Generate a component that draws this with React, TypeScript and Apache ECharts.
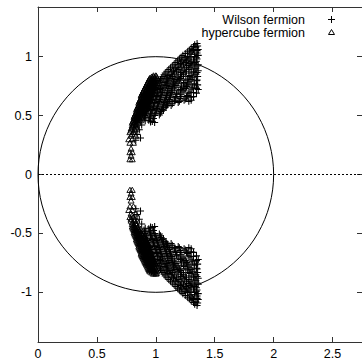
import React, { useEffect, useRef } from 'react';
import * as echarts from 'echarts';

const xTicks = [0, 0.5, 1, 1.5, 2, 2.5];
const yTicks = [-1, -0.5, 0, 0.5, 1];
const seriesNames = ['Wilson fermion', 'hypercube fermion'];

// Eigenvalues with positive imaginary part (the spectrum is symmetric under complex conjugation)
const wilsonUpper: number[][] = [
  [1.33, 1.10], [1.35, 1.11],
  [1.30, 1.07], [1.34, 1.08], [1.36, 1.06],
  [1.27, 1.04], [1.31, 1.05], [1.35, 1.03],
  [1.23, 1.01], [1.27, 1.00], [1.30, 1.02], [1.33, 1.00], [1.36, 1.01],
  [1.20, 0.98], [1.24, 0.97], [1.28, 0.98], [1.32, 0.97], [1.35, 0.98],
  [1.17, 0.95], [1.21, 0.94], [1.25, 0.95], [1.29, 0.94], [1.33, 0.95], [1.36, 0.93],
  [1.14, 0.92], [1.18, 0.91], [1.22, 0.92], [1.26, 0.91], [1.30, 0.92], [1.34, 0.90],
  [1.11, 0.89], [1.15, 0.88], [1.19, 0.89], [1.23, 0.88], [1.28, 0.89], [1.32, 0.87], [1.36, 0.88],
  [1.08, 0.86], [1.12, 0.85], [1.16, 0.86], [1.21, 0.85], [1.25, 0.86], [1.29, 0.84], [1.34, 0.85],
  [1.06, 0.83], [1.10, 0.82], [1.14, 0.83], [1.18, 0.82], [1.22, 0.83], [1.27, 0.81], [1.31, 0.82], [1.35, 0.80],
  [1.04, 0.80], [1.08, 0.79], [1.12, 0.80], [1.16, 0.79], [1.20, 0.80], [1.24, 0.78], [1.29, 0.79], [1.33, 0.77],
  [1.02, 0.77], [1.06, 0.76], [1.10, 0.77], [1.14, 0.76], [1.18, 0.77], [1.22, 0.75], [1.27, 0.76], [1.31, 0.74], [1.36, 0.72],
  [1.00, 0.74], [1.04, 0.73], [1.08, 0.74], [1.12, 0.73], [1.16, 0.74], [1.21, 0.72], [1.25, 0.73], [1.29, 0.70],
  [0.98, 0.71], [1.02, 0.70], [1.06, 0.71], [1.10, 0.70], [1.14, 0.71], [1.18, 0.69], [1.23, 0.70], [1.27, 0.67], [1.32, 0.66],
  [0.97, 0.68], [1.01, 0.67], [1.05, 0.68], [1.09, 0.67], [1.13, 0.68], [1.17, 0.66], [1.21, 0.66], [1.25, 0.64], [1.30, 0.63],
  [0.96, 0.65], [1.00, 0.64], [1.04, 0.65], [1.08, 0.64], [1.12, 0.65], [1.16, 0.63], [1.20, 0.62],
  [0.95, 0.62], [0.99, 0.61], [1.03, 0.62], [1.07, 0.61], [1.11, 0.62], [1.14, 0.60],
  [0.94, 0.59], [0.98, 0.58], [1.02, 0.59], [1.06, 0.58], [1.10, 0.59],
  [0.93, 0.56], [0.97, 0.55], [1.01, 0.56], [1.05, 0.55], [1.08, 0.57],
  [0.92, 0.53], [0.96, 0.52], [1.00, 0.53], [1.04, 0.52],
  [0.91, 0.50], [0.95, 0.49], [0.99, 0.50],
  [0.90, 0.47], [0.94, 0.46], [0.97, 0.45],
  [0.99, 0.44], [0.88, 0.42], [0.86, 0.38], [0.84, 0.34], [0.87, 0.31], [0.83, 0.29],
  [1.32, 1.085], [1.355, 1.09],
  [1.285, 1.055], [1.32, 1.06], [1.35, 1.05],
  [1.25, 1.025], [1.29, 1.03], [1.33, 1.02],
  [1.215, 0.995], [1.25, 0.99], [1.29, 0.99], [1.345, 0.99],
  [1.185, 0.965], [1.22, 0.96], [1.26, 0.965], [1.30, 0.955], [1.345, 0.96],
  [1.155, 0.935], [1.19, 0.93], [1.235, 0.935], [1.275, 0.925], [1.315, 0.93], [1.35, 0.92],
  [1.125, 0.905], [1.165, 0.90], [1.205, 0.905], [1.245, 0.895], [1.29, 0.905], [1.33, 0.895],
  [1.095, 0.875], [1.135, 0.87], [1.175, 0.875], [1.215, 0.865], [1.26, 0.875], [1.305, 0.86], [1.35, 0.865],
  [1.07, 0.845], [1.105, 0.84], [1.145, 0.845], [1.19, 0.835], [1.235, 0.845], [1.28, 0.83], [1.325, 0.835], [1.355, 0.83],
  [1.05, 0.815], [1.09, 0.81], [1.13, 0.815], [1.17, 0.805], [1.21, 0.815], [1.255, 0.80], [1.30, 0.805], [1.345, 0.795],
  [1.03, 0.785], [1.07, 0.78], [1.11, 0.785], [1.15, 0.775], [1.19, 0.785], [1.235, 0.77], [1.28, 0.775], [1.325, 0.76], [1.355, 0.76],
  [1.01, 0.755], [1.05, 0.75], [1.09, 0.755], [1.13, 0.745], [1.17, 0.755], [1.215, 0.74], [1.26, 0.745], [1.30, 0.725], [1.345, 0.73],
  [0.99, 0.725], [1.03, 0.72], [1.07, 0.725], [1.11, 0.715], [1.155, 0.725], [1.195, 0.71], [1.24, 0.715], [1.28, 0.69], [1.32, 0.695],
  [0.975, 0.695], [1.015, 0.69], [1.055, 0.695], [1.095, 0.685], [1.135, 0.695], [1.175, 0.68], [1.215, 0.68], [1.26, 0.66], [1.30, 0.655], [1.345, 0.69],
  [0.965, 0.665], [1.005, 0.66], [1.045, 0.665], [1.085, 0.655], [1.125, 0.665], [1.165, 0.65], [1.205, 0.645], [1.24, 0.63], [1.28, 0.62],
  [0.955, 0.635], [0.995, 0.63], [1.035, 0.635], [1.075, 0.625], [1.115, 0.635], [1.155, 0.62], [1.19, 0.61],
  [0.945, 0.605], [0.985, 0.60], [1.025, 0.605], [1.065, 0.595], [1.10, 0.605], [1.13, 0.585],
  [0.935, 0.575], [0.975, 0.57], [1.015, 0.575], [1.055, 0.565], [1.09, 0.58],
  [0.925, 0.545], [0.965, 0.54], [1.005, 0.545], [1.045, 0.535], [1.065, 0.545],
  [0.915, 0.515], [0.955, 0.51], [0.995, 0.515], [1.03, 0.505],
  [0.905, 0.485], [0.945, 0.48], [0.98, 0.475],
  [0.91, 0.455], [0.955, 0.445],
];

const hypercubeUpper: number[][] = [
  [0.98, 0.84], [1.00, 0.84],
  [0.95, 0.82], [0.97, 0.82], [0.99, 0.82], [1.01, 0.82],
  [0.94, 0.80], [0.96, 0.80], [0.98, 0.80], [1.00, 0.80],
  [0.93, 0.78], [0.95, 0.78], [0.97, 0.78], [0.99, 0.78],
  [0.92, 0.76], [0.94, 0.76], [0.96, 0.76], [0.98, 0.76], [1.00, 0.76],
  [0.91, 0.74], [0.93, 0.74], [0.95, 0.74], [0.97, 0.74], [0.99, 0.74],
  [0.90, 0.72], [0.92, 0.72], [0.94, 0.72], [0.96, 0.72], [0.98, 0.72],
  [0.89, 0.70], [0.91, 0.70], [0.93, 0.70], [0.95, 0.70], [0.97, 0.70],
  [0.88, 0.68], [0.90, 0.68], [0.92, 0.68], [0.94, 0.68], [0.96, 0.68],
  [0.88, 0.66], [0.90, 0.66], [0.92, 0.66], [0.94, 0.66], [0.96, 0.66],
  [0.87, 0.64], [0.89, 0.64], [0.91, 0.64], [0.93, 0.64], [0.95, 0.64],
  [0.86, 0.62], [0.88, 0.62], [0.90, 0.62], [0.92, 0.62], [0.94, 0.62],
  [0.86, 0.60], [0.88, 0.60], [0.90, 0.60], [0.92, 0.60], [0.94, 0.60],
  [0.85, 0.58], [0.87, 0.58], [0.89, 0.58], [0.91, 0.58], [0.93, 0.58],
  [0.84, 0.56], [0.86, 0.56], [0.88, 0.56], [0.90, 0.56], [0.92, 0.56],
  [0.84, 0.54], [0.86, 0.54], [0.88, 0.54], [0.90, 0.54],
  [0.83, 0.52], [0.85, 0.52], [0.87, 0.52], [0.89, 0.52],
  [0.82, 0.50], [0.84, 0.50], [0.86, 0.50], [0.88, 0.50],
  [0.82, 0.48], [0.84, 0.48], [0.86, 0.48],
  [0.81, 0.46], [0.83, 0.46], [0.85, 0.46], [0.87, 0.46],
  [0.80, 0.44], [0.82, 0.44], [0.85, 0.44],
  [0.80, 0.42], [0.83, 0.42],
  [0.79, 0.39], [0.82, 0.39], [0.84, 0.39],
  [0.78, 0.36], [0.81, 0.36],
  [0.79, 0.33], [0.83, 0.33],
  [0.77, 0.30], [0.80, 0.30],
  [0.78, 0.27], [0.81, 0.27],
  [0.79, 0.22],
  [0.78, 0.19], [0.80, 0.19],
  [0.79, 0.16],
  [0.78, 0.13], [0.80, 0.13],
  [0.965, 0.83], [0.985, 0.83], [1.005, 0.835],
  [0.945, 0.81], [0.965, 0.81], [0.985, 0.81], [1.005, 0.81],
  [0.935, 0.79], [0.955, 0.79], [0.975, 0.79], [0.995, 0.79],
  [0.925, 0.77], [0.945, 0.77], [0.965, 0.77], [0.985, 0.77],
  [0.915, 0.75], [0.935, 0.75], [0.955, 0.75], [0.975, 0.75], [0.995, 0.75],
  [0.905, 0.73], [0.925, 0.73], [0.945, 0.73], [0.965, 0.73], [0.985, 0.73],
  [0.895, 0.71], [0.915, 0.71], [0.935, 0.71], [0.955, 0.71], [0.975, 0.71],
  [0.885, 0.69], [0.905, 0.69], [0.925, 0.69], [0.945, 0.69], [0.965, 0.69],
  [0.875, 0.67], [0.895, 0.67], [0.915, 0.67], [0.935, 0.67], [0.955, 0.67],
  [0.875, 0.65], [0.895, 0.65], [0.915, 0.65], [0.935, 0.65], [0.955, 0.65],
  [0.865, 0.63], [0.885, 0.63], [0.905, 0.63], [0.925, 0.63], [0.945, 0.63],
  [0.855, 0.61], [0.875, 0.61], [0.895, 0.61], [0.915, 0.61], [0.935, 0.61],
  [0.855, 0.59], [0.875, 0.59], [0.895, 0.59], [0.915, 0.59], [0.935, 0.59],
  [0.845, 0.57], [0.865, 0.57], [0.885, 0.57], [0.905, 0.57], [0.925, 0.57],
  [0.835, 0.55], [0.855, 0.55], [0.875, 0.55], [0.895, 0.55], [0.915, 0.55],
  [0.835, 0.53], [0.855, 0.53], [0.875, 0.53], [0.895, 0.53],
  [0.825, 0.51], [0.845, 0.51], [0.865, 0.51], [0.885, 0.51],
  [0.815, 0.49], [0.835, 0.49], [0.855, 0.49], [0.875, 0.49],
  [0.815, 0.47], [0.835, 0.47], [0.855, 0.47],
  [0.805, 0.45], [0.825, 0.45], [0.845, 0.45],
  [0.81, 0.43], [0.835, 0.43],
  [0.80, 0.405], [0.83, 0.41],
  [0.79, 0.375], [0.82, 0.38],
  [0.80, 0.345],
];

// Reference circle: centre (re, im) and radius
const circleData: number[][] = [[1, 0, 1]];
const zeroLineY = 0;

const withConjugates = (pts: number[][]) => pts.concat(pts.map(([x, y]) => [x, -y]));

const FONT = "'Liberation Sans', Arial, Helvetica, sans-serif";
const PLUS = 'path://M-0.15,-1H0.15V-0.15H1V0.15H0.15V1H-0.15V0.15H-1V-0.15H-0.15Z';
const TRI = 'path://M0,-1L1,0.75L-1,0.75Z';
const axisLine = { show: true, onZero: false, lineStyle: { color: '#333', width: 1 } };

export default function App() {
  const ref = useRef<HTMLDivElement>(null);
  useEffect(() => {
    if (!ref.current) return;
    const chart = echarts.init(ref.current, null, { renderer: 'svg' });
    const tickStyle = { color: '#333', width: 1 };
    const legendText = (text: string, y: number) => ({
      type: 'text',
      x: 305,
      y,
      style: { text, fill: '#000', font: `12.5px ${FONT}`, textAlign: 'right', textVerticalAlign: 'middle' },
    });
    chart.setOption({
      animation: false,
      backgroundColor: '#fff',
      textStyle: { fontFamily: FONT },
      grid: { left: 38, top: 7, width: 325, height: 335 },
      graphic: [
        legendText(seriesNames[0], 19.5),
        legendText(seriesNames[1], 32.5),
        { type: 'line', shape: { x1: 328, y1: 19.5, x2: 335, y2: 19.5 }, style: { stroke: '#000', lineWidth: 1 } },
        { type: 'line', shape: { x1: 331.5, y1: 16, x2: 331.5, y2: 23 }, style: { stroke: '#000', lineWidth: 1 } },
        { type: 'polygon', shape: { points: [[331.5, 29.5], [334.5, 34.5], [328.5, 34.5]] }, style: { fill: 'none', stroke: '#000', lineWidth: 1 } },
      ],
      xAxis: [
        {
          type: 'value', min: 0, max: 2.75, position: 'bottom',
          axisLine,
          axisTick: { show: true, inside: true, length: 5, customValues: xTicks, lineStyle: tickStyle },
          axisLabel: { customValues: xTicks, color: '#000', fontSize: 12.5, margin: 5, fontFamily: FONT },
          splitLine: { show: false },
        },
        {
          type: 'value', min: 0, max: 2.75, position: 'top',
          axisLine,
          axisTick: { show: true, inside: true, length: 5, customValues: xTicks, lineStyle: tickStyle },
          axisLabel: { show: false },
          splitLine: { show: false },
        },
      ],
      yAxis: [
        {
          type: 'value', min: -1.42, max: 1.42, position: 'left',
          axisLine,
          axisTick: { show: true, inside: true, length: 5, customValues: yTicks, lineStyle: tickStyle },
          axisLabel: { customValues: yTicks, color: '#000', fontSize: 12.5, margin: 6, fontFamily: FONT },
          splitLine: { show: false },
        },
        {
          type: 'value', min: -1.42, max: 1.42, position: 'right',
          axisLine,
          axisTick: { show: true, inside: true, length: 5, customValues: yTicks, lineStyle: tickStyle },
          axisLabel: { show: false },
          splitLine: { show: false },
        },
      ],
      series: [
        {
          type: 'custom',
          name: 'circle',
          data: circleData,
          encode: { x: 0, y: 1 },
          z: 1,
          silent: true,
          renderItem: (params: any, api: any) => {
            const c = api.coord([api.value(0), api.value(1)]);
            const r = api.size([api.value(2), 0])[0];
            return {
              type: 'circle',
              shape: { cx: c[0], cy: c[1], r },
              style: { fill: 'none', stroke: '#000', lineWidth: 1 },
            };
          },
          markLine: {
            silent: true,
            symbol: 'none',
            label: { show: false },
            lineStyle: { color: '#000', width: 1, type: [2, 2] },
            data: [{ yAxis: zeroLineY }],
          },
        },
        {
          type: 'scatter',
          name: seriesNames[0],
          data: withConjugates(wilsonUpper),
          symbol: PLUS,
          symbolSize: 7,
          itemStyle: { color: '#000', opacity: 1 },
          z: 2,
        },
        {
          type: 'scatter',
          name: seriesNames[1],
          data: withConjugates(hypercubeUpper),
          symbol: TRI,
          symbolSize: 6,
          symbolKeepAspect: true,
          itemStyle: { color: 'rgba(0,0,0,0)', borderColor: '#000', borderWidth: 0.9, opacity: 1 },
          z: 3,
        },
      ],
    });
    return () => chart.dispose();
  }, []);
  return <div ref={ref} style={{ width: 362, height: 362, position: 'absolute', left: 0, top: 0 }} />;
}
